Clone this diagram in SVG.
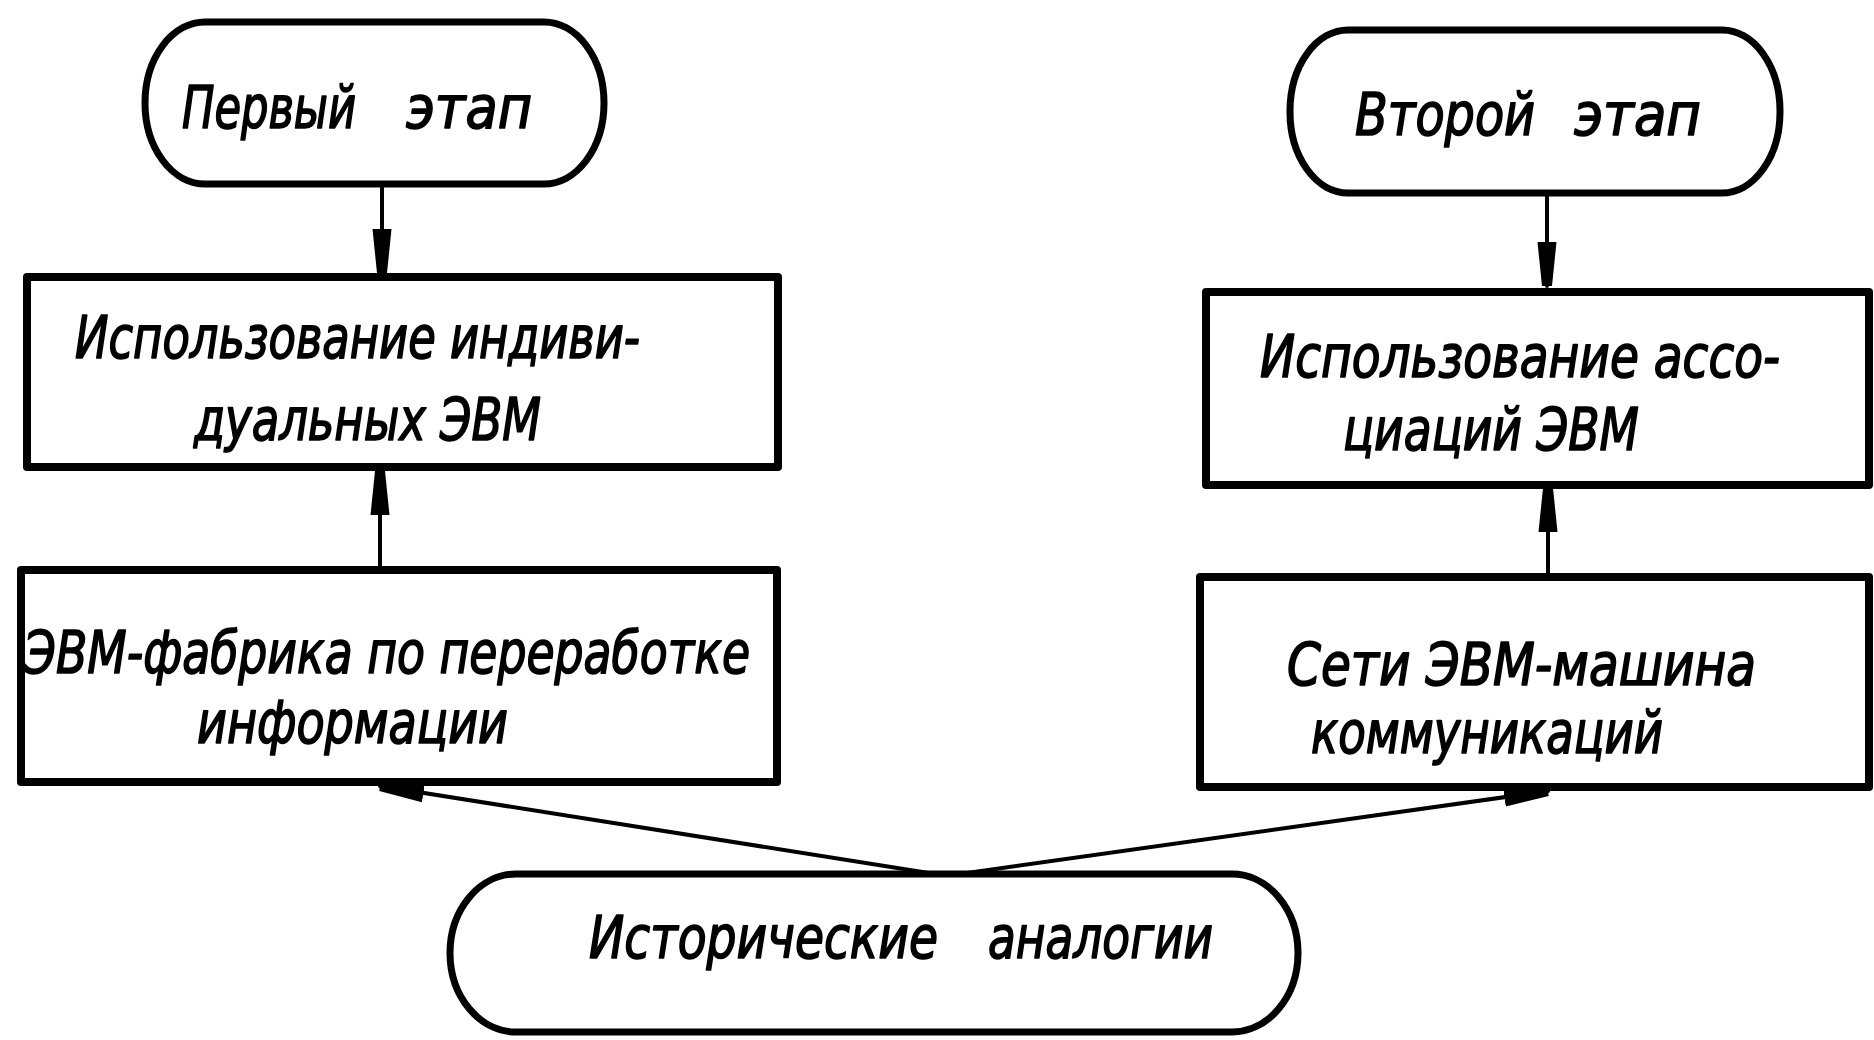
<svg xmlns="http://www.w3.org/2000/svg" width="1874" height="1040" viewBox="0 0 1874 1040">
  <style>
    .node { fill: #fff; stroke: #000; stroke-width: 8; stroke-linejoin: round; }
    .term { fill: #fff; stroke: #000; stroke-width: 7; }
    .lbl { font-family: "DejaVu Sans Condensed", "DejaVu Sans", "Liberation Sans", sans-serif; font-stretch: condensed; font-style: oblique; font-size: 59px; fill: #000; stroke: #000; stroke-width: 1.6; stroke-linejoin: round; }
    .edge { fill: none; stroke: #000; stroke-width: 4; stroke-linecap: round; }
  </style>
  <defs>
    <!-- narrow tapered arrowhead, sized in user units -->
    <marker id="head" markerUnits="userSpaceOnUse" viewBox="0 0 46 22" markerWidth="46" markerHeight="22" refX="44" refY="11" orient="auto">
      <path d="M0,1.5 L44,6 L44,16 L0,20.5 Z" fill="#000"/>
    </marker>
  </defs>

  <g id="connectors">
    <line class="edge" x1="382" y1="188" x2="382" y2="273" marker-end="url(#head)"/>
    <line class="edge" x1="380" y1="566" x2="380" y2="471" marker-end="url(#head)"/>
    <line class="edge" x1="1547" y1="196" x2="1547" y2="286" marker-end="url(#head)"/>
    <line class="edge" x1="1548" y1="573" x2="1548" y2="488" marker-end="url(#head)"/>
    <line class="edge" x1="935" y1="874" x2="380" y2="786" marker-end="url(#head)"/>
    <line class="edge" x1="960" y1="874" x2="1548" y2="791" marker-end="url(#head)"/>
  </g>

  <g id="stage1">
    <rect class="term" x="145" y="22" width="459" height="162" rx="60" ry="81"/>
    <text class="lbl" y="128"><tspan x="182" textLength="174" lengthAdjust="spacingAndGlyphs">Первый</tspan><tspan x="406" textLength="126" lengthAdjust="spacingAndGlyphs">этап</tspan></text>
  </g>

  <g id="individual">
    <rect class="node" x="27" y="277" width="751" height="190"/>
    <text class="lbl" x="75" y="358" textLength="565" lengthAdjust="spacingAndGlyphs">Использование индиви-</text>
    <text class="lbl" x="194" y="440" textLength="347" lengthAdjust="spacingAndGlyphs">дуальных ЭВМ</text>
  </g>

  <g id="factory">
    <rect class="node" x="21" y="570" width="756" height="212"/>
    <text class="lbl" x="24" y="673" textLength="726" lengthAdjust="spacingAndGlyphs">ЭВМ-фабрика по переработке</text>
    <text class="lbl" x="197" y="743" textLength="311" lengthAdjust="spacingAndGlyphs">информации</text>
  </g>

  <g id="stage2">
    <rect class="term" x="1290" y="30" width="490" height="163" rx="58" ry="81"/>
    <text class="lbl" y="135"><tspan x="1355" textLength="180" lengthAdjust="spacingAndGlyphs">Второй</tspan><tspan x="1574" textLength="127" lengthAdjust="spacingAndGlyphs">этап</tspan></text>
  </g>

  <g id="association">
    <rect class="node" x="1206" y="292" width="663" height="193"/>
    <text class="lbl" x="1260" y="377" textLength="520" lengthAdjust="spacingAndGlyphs">Использование ассо-</text>
    <text class="lbl" x="1343" y="450" textLength="296" lengthAdjust="spacingAndGlyphs">циаций ЭВМ</text>
  </g>

  <g id="networks">
    <rect class="node" x="1200" y="577" width="669" height="210"/>
    <text class="lbl" x="1287" y="685" textLength="469" lengthAdjust="spacingAndGlyphs">Сети ЭВМ-машина</text>
    <text class="lbl" x="1311" y="753" textLength="352" lengthAdjust="spacingAndGlyphs">коммуникаций</text>
  </g>

  <g id="analogies">
    <rect class="term" x="450" y="874" width="848" height="158" rx="66" ry="79"/>
    <text class="lbl" y="958"><tspan x="589" textLength="349" lengthAdjust="spacingAndGlyphs">Исторические</tspan><tspan x="988" textLength="225" lengthAdjust="spacingAndGlyphs">аналогии</tspan></text>
  </g>
</svg>
